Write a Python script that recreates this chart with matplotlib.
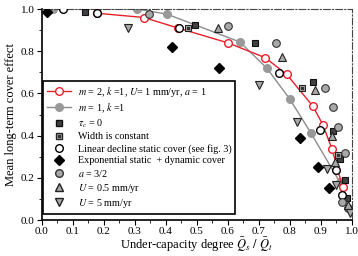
import matplotlib
matplotlib.use('Agg')
import matplotlib.pyplot as plt
from matplotlib.lines import Line2D
from matplotlib.legend_handler import HandlerTuple

plt.rcParams['font.family'] = 'Liberation Serif'
plt.rcParams['mathtext.fontset'] = 'stix'

# m = 2, k = 1, U = 1 mm/yr, a = 1 (red line)
red_x = [0.18, 0.33, 0.44, 0.60, 0.72, 0.79, 0.874, 0.907, 0.936, 0.97]
red_y = [0.98, 0.96, 0.91, 0.84, 0.77, 0.69, 0.54, 0.45, 0.336, 0.156]

# m = 1, k = 1 (gray line)
gray_x = [0.037, 0.308, 0.404, 0.639, 0.726, 0.80, 0.868, 0.961]
gray_y = [1.0, 1.0, 0.976, 0.844, 0.72, 0.573, 0.412, 0.18]

# tau_c = 0
sq_x = [0.14, 0.494, 0.688, 0.874, 0.939, 0.961, 0.977, 0.984]
sq_y = [0.986, 0.924, 0.839, 0.654, 0.422, 0.289, 0.19, 0.104]

# width is constant
wc_x = [0.472, 0.839, 0.955]
wc_y = [0.91, 0.626, 0.308]

# linear decline static cover
lin_x = [0.07, 0.179, 0.443, 0.765, 0.897, 0.948, 0.968]
lin_y = [1.0, 0.981, 0.91, 0.697, 0.427, 0.237, 0.118]

# exponential static + dynamic cover
exp_x = [0.018, 0.42, 0.572, 0.832, 0.89, 0.926]
exp_y = [0.986, 0.82, 0.72, 0.389, 0.251, 0.152]

# a = 3/2
a_x = [0.346, 0.60, 0.755, 0.913, 0.939, 0.955, 0.977, 0.968, 0.987]
a_y = [0.976, 0.92, 0.839, 0.626, 0.536, 0.441, 0.318, 0.085, 0.057]

# U = 0.5 mm/yr
up_x = [0.568, 0.775, 0.881, 0.936, 0.945, 0.987]
up_y = [0.91, 0.773, 0.616, 0.398, 0.275, 0.071]

# U = 5 mm/yr
dn_x = [0.278, 0.70, 0.823, 0.92, 0.948, 0.994]
dn_y = [0.91, 0.64, 0.464, 0.242, 0.166, 0.033]

fig = plt.figure(figsize=(3.58, 2.56), dpi=100)
ax = fig.add_axes([0.116, 0.1406, 0.867, 0.824])

ms = 5.5
ax.plot(gray_x, gray_y, '-o', color='#8c8c8c', lw=1.0, ms=ms, mfc='#999999', mec='#999999', zorder=2)
ax.plot(red_x, red_y, '-o', color='#e8202a', lw=1.0, ms=ms, mfc='white', mec='#e8202a', mew=1.0, zorder=3)

ax.plot(sq_x, sq_y, 's', ls='none', ms=5, mfc='#404040', mec='#111111', mew=0.8, zorder=4)
ax.plot(wc_x, wc_y, 's', ls='none', ms=5, mfc='#b0b0b0', mec='#222222', mew=0.8, zorder=4)
ax.plot(wc_x, wc_y, 's', ls='none', ms=1.6, mfc='#333333', mec='#333333', zorder=5)
ax.plot(lin_x, lin_y, 'o', ls='none', ms=ms, mfc='white', mec='black', mew=1.0, zorder=4)
ax.plot(exp_x, exp_y, 'D', ls='none', ms=5, mfc='black', mec='black', zorder=4)
ax.plot(a_x, a_y, 'o', ls='none', ms=ms, mfc='#a8a8a8', mec='#333333', mew=0.8, zorder=4)
ax.plot(up_x, up_y, '^', ls='none', ms=ms, mfc='#a8a8a8', mec='#222222', mew=0.8, zorder=4)
ax.plot(dn_x, dn_y, 'v', ls='none', ms=ms, mfc='#a8a8a8', mec='#222222', mew=0.8, zorder=4)

ax.set_xlim(0, 1.0)
ax.set_ylim(0, 1.0)
ax.set_xticks([i / 10 for i in range(11)])
ax.set_xticks([i / 20 for i in range(21)], minor=True)
ax.set_yticks([0.0, 0.2, 0.4, 0.6, 0.8, 1.0])
ax.set_yticks([i / 10 for i in range(11)], minor=True)
ax.set_xticklabels([f'{i / 10:.1f}' for i in range(11)])
ax.tick_params(which='major', direction='out', length=3.5, width=0.8, labelsize=8, pad=1.5)
ax.tick_params(which='minor', direction='out', length=2, width=0.6)

for s in ('left', 'bottom'):
    ax.spines[s].set_linewidth(1.2)
for s in ('top', 'right'):
    ax.spines[s].set_linestyle((0, (6, 2, 1, 2)))
    ax.spines[s].set_color('#444444')
    ax.spines[s].set_linewidth(0.8)

ax.set_xlabel(r'Under-capacity degree $\bar{Q}_s\ /\ \bar{Q}_t$', fontsize=9, labelpad=0)
ax.set_ylabel('Mean long-term cover effect', fontsize=9, labelpad=3)

h_red = Line2D([], [], color='#e8202a', lw=1.0, marker='o', ms=ms, mfc='white', mec='#e8202a')
h_gray = Line2D([], [], color='#8c8c8c', lw=1.0, marker='o', ms=ms, mfc='#999999', mec='#999999')
h_sq = Line2D([], [], ls='none', marker='s', ms=5, mfc='#404040', mec='#111111')
h_wc1 = Line2D([], [], ls='none', marker='s', ms=5, mfc='#b0b0b0', mec='#222222')
h_wc2 = Line2D([], [], ls='none', marker='s', ms=1.6, mfc='#333333', mec='#333333')
h_lin = Line2D([], [], ls='none', marker='o', ms=ms, mfc='white', mec='black')
h_exp = Line2D([], [], ls='none', marker='D', ms=5, mfc='black', mec='black')
h_a = Line2D([], [], ls='none', marker='o', ms=ms, mfc='#a8a8a8', mec='#333333')
h_up = Line2D([], [], ls='none', marker='^', ms=ms, mfc='#a8a8a8', mec='#222222')
h_dn = Line2D([], [], ls='none', marker='v', ms=ms, mfc='#a8a8a8', mec='#222222')

labels = [r'$m$ = 2, $k$ =1, $U$= 1 mm/yr, $a$ = 1',
          r'$m$ = 1, $k$ =1',
          r'$\tau_c$ = 0',
          'Width is constant',
          'Linear decline static cover (see fig. 3)',
          'Exponential static  + dynamic cover',
          r'$a$ = 3/2',
          r'$U$ = 0.5 mm/yr',
          r'$U$ = 5 mm/yr']
handles = [h_red, h_gray, h_sq, (h_wc1, h_wc2), h_lin, h_exp, h_a, h_up, h_dn]
leg = ax.legend(handles, labels, handler_map={tuple: HandlerTuple(ndivide=1)},
                loc='lower left', bbox_to_anchor=(0.005, 0.028), borderaxespad=0,
                fontsize=7.3, frameon=True, fancybox=False, edgecolor='black',
                handlelength=2.4, handletextpad=0.6, labelspacing=0.25,
                borderpad=0.4, framealpha=1)
leg.get_frame().set_linewidth(1.2)

fig.savefig('out.png', dpi=100)
